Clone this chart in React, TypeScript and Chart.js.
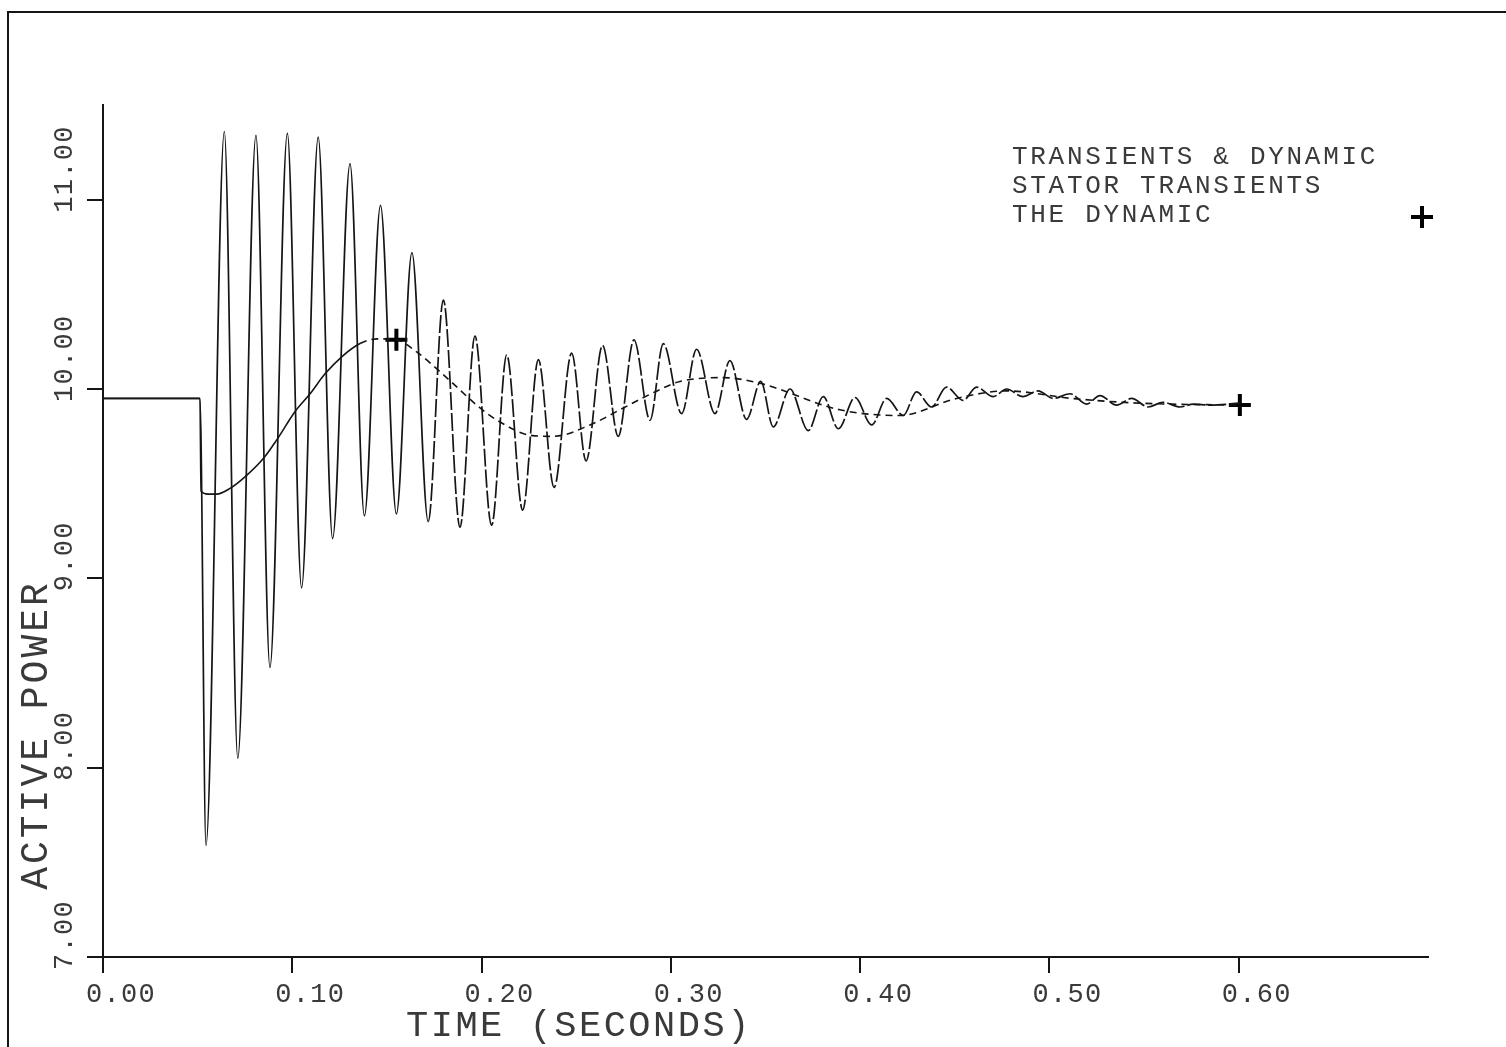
import React, { useEffect, useRef } from 'react';
import { Chart, registerables } from 'chart.js';

Chart.register(...registerables);

// Full model: stator transients & dynamics (oscillating trace)
const oscTime = [
  0, 0.0512, 0.0544, 0.0641, 0.0712, 0.0808, 0.0882, 0.0974, 0.1049, 0.1137,
  0.1213, 0.1305, 0.1381, 0.1466, 0.155, 0.1632, 0.1718, 0.1798, 0.1886, 0.1965,
  0.2053, 0.2133, 0.2217, 0.23, 0.2383, 0.2476, 0.2552, 0.2639, 0.2722, 0.2805,
  0.289, 0.296, 0.3057, 0.3136, 0.3233, 0.3312, 0.34, 0.3475, 0.3541, 0.3629,
  0.3726, 0.3805, 0.3885, 0.3973, 0.4061, 0.414, 0.4228, 0.4298, 0.4377, 0.4456,
  0.4544, 0.4615, 0.4703, 0.4774, 0.486, 0.494, 0.502, 0.511, 0.5196, 0.5267,
  0.5355, 0.5434, 0.5522, 0.56, 0.569, 0.576, 0.585, 0.6006,
];
const oscPower = [
  9.95, 9.95, 7.59, 11.36, 8.05, 11.34, 8.53, 11.35, 8.95, 11.33,
  9.21, 11.19, 9.33, 10.97, 9.34, 10.72, 9.3, 10.47, 9.27, 10.28,
  9.28, 10.18, 9.36, 10.155, 9.48, 10.19, 9.62, 10.23, 9.75, 10.26,
  9.835, 10.24, 9.87, 10.21, 9.87, 10.15, 9.84, 10.04, 9.8, 10.0,
  9.78, 9.96, 9.79, 9.955, 9.81, 9.95, 9.86, 9.985, 9.905, 10.01,
  9.94, 10.01, 9.96, 10.0, 9.96, 9.99, 9.95, 9.975, 9.92, 9.965,
  9.915, 9.95, 9.905, 9.93, 9.905, 9.92, 9.915, 9.925,
];

// Dynamic-only model (smooth trace)
const dynTime = [
  0, 0.0512, 0.0518, 0.0555, 0.06, 0.0671, 0.075, 0.0847, 0.0917, 0.1014,
  0.1094, 0.1173, 0.1261, 0.1358, 0.145, 0.155, 0.1657, 0.1815, 0.1992, 0.2097,
  0.2256, 0.2379, 0.2573, 0.2749, 0.2942, 0.3048, 0.3277, 0.3471, 0.3893, 0.421,
  0.4509, 0.4774, 0.512, 0.548, 0.6006,
];
const dynPower = [
  9.95, 9.95, 9.46, 9.445, 9.445, 9.475, 9.536, 9.633, 9.73, 9.88,
  9.975, 10.08, 10.17, 10.24, 10.265, 10.26, 10.196, 10.06, 9.9, 9.826,
  9.756, 9.75, 9.81, 9.9, 9.997, 10.04, 10.06, 10.03, 9.89, 9.86,
  9.95, 9.99, 9.95, 9.925, 9.915,
];

// Plot markers (+) on the dynamic trace
const markerTime = [0.155, 0.6006];
const markerPower = [10.26, 9.915];

const xTickLabels = ['0.00', '0.10', '0.20', '0.30', '0.40', '0.50', '0.60'];
const yTickLabels = ['7.00', '8.00', '9.00', '10.00', '11.00'];
const legendLabels = ['TRANSIENTS & DYNAMIC', 'STATOR TRANSIENTS', 'THE DYNAMIC'];
const xTitle = 'TIME (SECONDS)';
const yTitle = 'ACTIVE POWER';

const INK = '#151515';
const TEXT = '#3a3a3a';
const FONT = '"Liberation Mono", "DejaVu Sans Mono", monospace';

const plotText = {
  id: 'plotText',
  afterDraw(chart: any) {
    const { ctx, scales, chartArea } = chart;
    const x = scales.x;
    const y = scales.y;
    ctx.save();

    // sheet frame (top and left edges)
    ctx.strokeStyle = INK;
    ctx.lineWidth = 2;
    ctx.beginPath();
    ctx.moveTo(1506, 12);
    ctx.lineTo(8, 12);
    ctx.lineTo(8, 1047);
    ctx.stroke();

    ctx.fillStyle = TEXT;
    ctx.textBaseline = 'middle';

    // x tick labels
    ctx.font = `27px ${FONT}`;
    (ctx as any).letterSpacing = '1.3px';
    ctx.textAlign = 'left';
    x.ticks.forEach((t: any, i: number) => {
      const px = x.getPixelForValue(t.value);
      ctx.fillText(xTickLabels[i] ?? '', px - 17, chartArea.bottom + 38);
    });

    // y tick labels (rotated, reading upward)
    y.ticks.forEach((t: any, i: number) => {
      const py = y.getPixelForValue(t.value);
      ctx.save();
      ctx.translate(chartArea.left - 38, py + 13);
      ctx.rotate(-Math.PI / 2);
      ctx.textAlign = 'left';
      ctx.fillText(yTickLabels[i] ?? '', 0, 0);
      ctx.restore();
    });

    // y title
    ctx.save();
    ctx.font = `38px ${FONT}`;
    (ctx as any).letterSpacing = '3px';
    ctx.translate(37, 735);
    ctx.rotate(-Math.PI / 2);
    ctx.textAlign = 'center';
    ctx.fillText(yTitle, 0, 0);
    ctx.restore();

    // x title
    ctx.font = `37px ${FONT}`;
    (ctx as any).letterSpacing = '2.5px';
    ctx.textAlign = 'left';
    ctx.fillText(xTitle, 406, 1026);

    // legend
    ctx.font = `26px ${FONT}`;
    (ctx as any).letterSpacing = '2.7px';
    ctx.textAlign = 'left';
    legendLabels.forEach((s, i) => {
      ctx.fillText(s, 1012, 157 + i * 29);
    });

    // legend marker for THE DYNAMIC
    ctx.strokeStyle = '#000';
    ctx.lineWidth = 4;
    ctx.beginPath();
    ctx.moveTo(1411, 217);
    ctx.lineTo(1433, 217);
    ctx.moveTo(1422, 206);
    ctx.lineTo(1422, 228);
    ctx.stroke();

    ctx.restore();
  },
};

export default function App() {
  const ref = useRef<HTMLCanvasElement | null>(null);

  useEffect(() => {
    if (!ref.current) return;
    const axisGrid = {
      drawOnChartArea: false,
      drawTicks: true,
      tickLength: 16,
      color: INK,
      lineWidth: 2,
    };
    const chart = new Chart(ref.current, {
      type: 'line',
      data: {
        datasets: [
          {
            label: legendLabels[0],
            data: oscTime.map((t, i) => ({ x: t, y: oscPower[i] })),
            borderColor: INK,
            borderWidth: 1.7,
            pointRadius: 0,
            cubicInterpolationMode: 'monotone',
            segment: {
              borderDash: (c: any) => (c.p0.parsed.x > 0.17 ? [18, 3] : undefined),
            },
          },
          {
            label: legendLabels[2],
            data: dynTime.map((t, i) => ({ x: t, y: dynPower[i] })),
            borderColor: INK,
            borderWidth: 1.6,
            pointRadius: 0,
            cubicInterpolationMode: 'monotone',
            segment: {
              borderDash: (c: any) => (c.p0.parsed.x > 0.13 ? [7, 5] : undefined),
            },
          },
          {
            label: 'markers',
            data: markerTime.map((t, i) => ({ x: t, y: markerPower[i] })),
            showLine: false,
            pointStyle: 'cross',
            pointRadius: 11,
            borderWidth: 4,
            borderColor: '#000',
          },
        ],
      } as any,
      options: {
        responsive: false,
        animation: false,
        devicePixelRatio: 1,
        layout: { padding: { top: 105, right: 78, left: 0, bottom: 0 } },
        plugins: { legend: { display: false }, tooltip: { enabled: false } },
        scales: {
          x: {
            type: 'linear',
            min: 0,
            max: 0.7,
            ticks: { stepSize: 0.1, display: false },
            afterBuildTicks: (s: any) => {
              s.ticks = s.ticks.filter((t: any) => t.value < 0.65);
            },
            afterFit: (s: any) => {
              s.height = 90;
            },
            grid: axisGrid,
            border: { color: INK, width: 2 },
          },
          y: {
            type: 'linear',
            min: 7,
            max: 11.5,
            ticks: { stepSize: 1, display: false },
            afterBuildTicks: (s: any) => {
              s.ticks = s.ticks.filter((t: any) => t.value < 11.2);
            },
            afterFit: (s: any) => {
              s.width = 103;
            },
            grid: axisGrid,
            border: { color: INK, width: 2 },
          },
        },
      } as any,
      plugins: [plotText],
    });
    return () => chart.destroy();
  }, []);

  return (
    <div style={{ position: 'fixed', left: 0, top: 0, width: 1506, height: 1047, background: '#fff' }}>
      <canvas ref={ref} width={1506} height={1047} style={{ display: 'block' }} />
    </div>
  );
}
